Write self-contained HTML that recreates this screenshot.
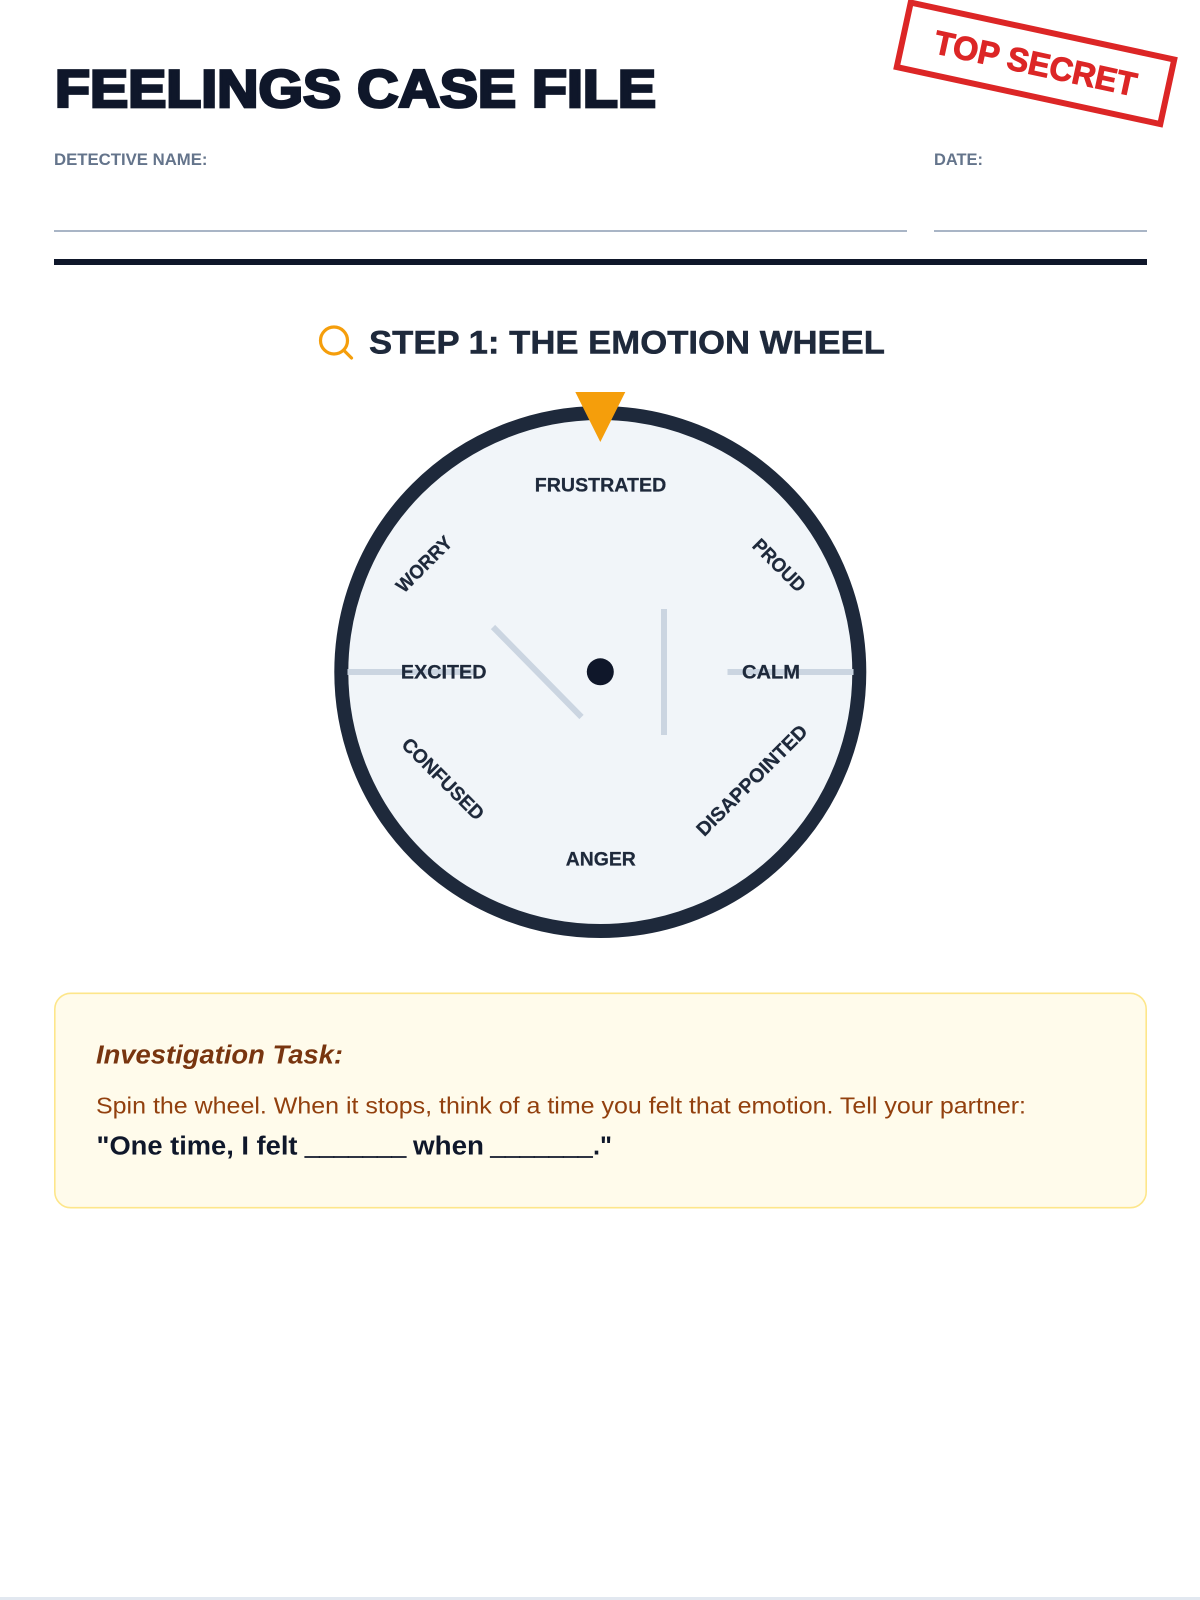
<!DOCTYPE html>
<html lang="en">
<head>
<meta charset="utf-8">
<title>Feelings Case File</title>
<style>
html,body{margin:0;padding:0;background:#fff;width:1200px;height:1600px;overflow:hidden}
svg{display:block}
text{font-family:"Liberation Sans",Arial,sans-serif}
</style>
</head>
<body>
<svg xmlns="http://www.w3.org/2000/svg" width="1200" height="1600" viewBox="0 0 1200 1600">
<rect width="1200" height="1600" fill="#fff"/>
<rect x="0" y="1597" width="1200" height="3" fill="#e2e8f0"/>

<text x="55" y="107" font-size="53" font-weight="700" fill="#0f172a" stroke="#0f172a" stroke-width="2.8" textLength="601" lengthAdjust="spacingAndGlyphs">FEELINGS CASE FILE</text>

<g transform="translate(1035.5 63.3) rotate(12.2)">
<rect x="-134.8" y="-33" width="269.6" height="66" fill="none" stroke="#dc2626" stroke-width="6"/>
<text x="0" y="11.5" text-anchor="middle" font-size="33" font-weight="700" fill="#dc2626" stroke="#dc2626" stroke-width="1" textLength="206" lengthAdjust="spacingAndGlyphs">TOP SECRET</text>
</g>

<text x="54" y="165" font-size="17" font-weight="700" fill="#64748b" textLength="153.5" lengthAdjust="spacingAndGlyphs">DETECTIVE NAME:</text>
<text x="934" y="165" font-size="17" font-weight="700" fill="#64748b" textLength="49" lengthAdjust="spacingAndGlyphs">DATE:</text>
<rect x="54" y="230.2" width="853" height="1.6" fill="#94a3b8"/>
<rect x="934" y="230.2" width="213" height="1.6" fill="#94a3b8"/>
<rect x="54" y="259" width="1093" height="6" fill="#0f172a"/>

<circle cx="334" cy="340.5" r="13.5" fill="none" stroke="#f59e0b" stroke-width="3.2"/>
<line x1="344" y1="350.5" x2="351.5" y2="358" stroke="#f59e0b" stroke-width="3.2" stroke-linecap="round"/>
<text x="369" y="353.6" font-size="32.5" font-weight="700" fill="#1e293b" stroke="#1e293b" stroke-width="0.5" textLength="516" lengthAdjust="spacingAndGlyphs">STEP 1: THE EMOTION WHEEL</text>

<circle cx="600.3" cy="672" r="259" fill="#f1f5f9" stroke="#1e293b" stroke-width="14"/>
<rect x="347.5" y="669" width="126" height="6" fill="#cbd5e1"/>
<rect x="727.5" y="669" width="126" height="6" fill="#cbd5e1"/>
<rect x="661" y="609" width="6" height="126" fill="#cbd5e1"/>
<line x1="493" y1="627" x2="581.5" y2="717" stroke="#cbd5e1" stroke-width="6"/>
<circle cx="600.3" cy="671.8" r="13.5" fill="#0f172a"/>
<polygon points="575.3,392 625.3,392 600.3,442" fill="#f59e0b"/>

<g font-size="19.5" font-weight="700" fill="#1e293b" stroke="#1e293b" stroke-width="0.25" text-anchor="middle">
<text x="600.5" y="491.7" textLength="131.5" lengthAdjust="spacingAndGlyphs">FRUSTRATED</text>
<text x="600.8" y="865.5" textLength="70" lengthAdjust="spacingAndGlyphs">ANGER</text>
<text x="443.7" y="678.6" textLength="85.5" lengthAdjust="spacingAndGlyphs">EXCITED</text>
<text x="771" y="678.6" textLength="58" lengthAdjust="spacingAndGlyphs">CALM</text>
<text transform="translate(423.8 564) rotate(-45)" y="7" textLength="70.5" lengthAdjust="spacingAndGlyphs">WORRY</text>
<text transform="translate(779.5 565) rotate(45)" y="7" textLength="66" lengthAdjust="spacingAndGlyphs">PROUD</text>
<text transform="translate(443.3 778.7) rotate(45)" y="7" textLength="107" lengthAdjust="spacingAndGlyphs">CONFUSED</text>
<text transform="translate(751.6 780) rotate(-45)" y="7" textLength="148" lengthAdjust="spacingAndGlyphs">DISAPPOINTED</text>
</g>

<rect x="54.8" y="993.3" width="1091.4" height="214.4" rx="16" ry="16" fill="#fffbeb" stroke="#fde68a" stroke-width="1.6"/>
<text x="96" y="1063.3" font-size="25.5" font-weight="700" font-style="italic" fill="#78350f" textLength="247" lengthAdjust="spacingAndGlyphs">Investigation Task:</text>
<text x="96" y="1113.3" font-size="23" fill="#92400e" textLength="930" lengthAdjust="spacingAndGlyphs">Spin the wheel. When it stops, think of a time you felt that emotion. Tell your partner:</text>
<g font-size="25.5" font-weight="700" fill="#0f172a">
<text x="96.5" y="1154.3" textLength="201" lengthAdjust="spacingAndGlyphs">"One time, I felt</text>
<text x="305" y="1154.3" stroke="#0f172a" stroke-width="0.7" textLength="101" lengthAdjust="spacingAndGlyphs">_______</text>
<text x="413" y="1154.3" textLength="71" lengthAdjust="spacingAndGlyphs">when</text>
<text x="490.5" y="1154.3" stroke="#0f172a" stroke-width="0.7" textLength="102" lengthAdjust="spacingAndGlyphs">_______</text>
<text x="593" y="1154.3" textLength="19" lengthAdjust="spacingAndGlyphs">."</text>
</g>
</svg>
</body>
</html>
